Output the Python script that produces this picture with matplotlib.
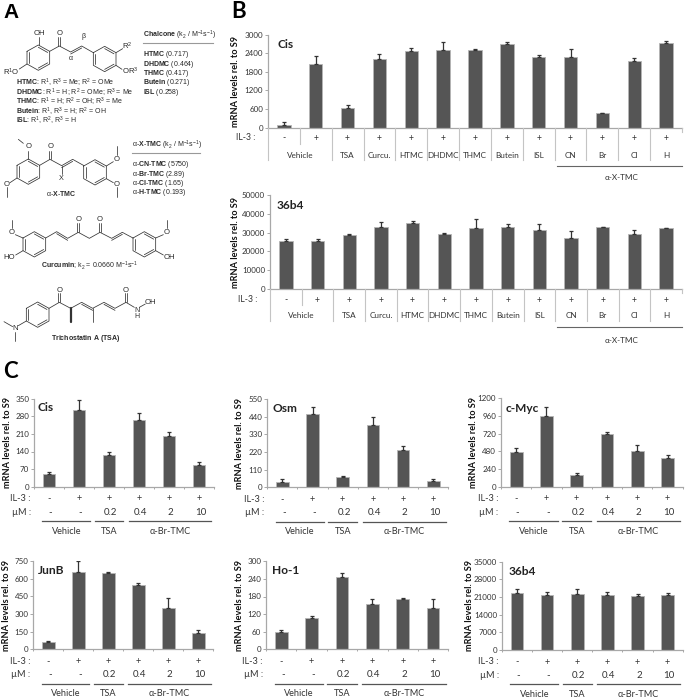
import matplotlib
matplotlib.use("Agg")
import matplotlib.pyplot as plt

plt.rcParams['font.family'] = ['Lato', 'Liberation Sans', 'DejaVu Sans']
plt.rcParams['mathtext.fontset'] = 'custom'
plt.rcParams['mathtext.rm'] = 'Liberation Sans'
plt.rcParams['mathtext.bf'] = 'Liberation Sans:bold'
plt.rcParams['mathtext.it'] = 'Liberation Sans:italic'
plt.rcParams['mathtext.default'] = 'rm'

W, H = 686, 700
BAR = '#555555'; EDGE = '#b5b5b5'; AX = '#a8a8a8'; TXT = '#333333'
CHEM = ['Liberation Sans', 'DejaVu Sans']

# ---------- data ----------
b_il3 = ['-', '+', '+', '+', '+', '+', '+', '+', '+', '+', '+', '+', '+']
b_names = ['TSA', 'Curcu.', 'HTMC', 'DHDMC', 'THMC', 'Butein', 'ISL', 'CN', 'Br', 'Cl', 'H']
b_cis = [100, 2050, 640, 2200, 2460, 2520, 2510, 2690, 2270, 2290, 470, 2160, 2740]
b_cis_err = [80, 270, 80, 190, 110, 240, 30, 60, 60, 240, 10, 100, 70]
b_36b4 = [25800, 25400, 28800, 33200, 35000, 29500, 32500, 32900, 31500, 27000, 33200, 29500, 32500]
b_36b4_err = [900, 1000, 300, 2500, 1500, 200, 4700, 1500, 3000, 4000, 0, 1800, 0]

c_il3 = ['-', '+', '+', '+', '+', '+']
c_um = ['-', '-', '0.2', '0.4', '2', '10']
c_cis = [52, 305, 125, 265, 200, 85]
c_cis_err = [8, 40, 14, 30, 18, 15]
c_osm = [35, 455, 62, 390, 232, 38]
c_osm_err = [15, 45, 10, 50, 25, 12]
c_myc = [470, 955, 160, 710, 490, 390]
c_myc_err = [60, 130, 20, 30, 70, 35]
c_junb = [65, 660, 645, 548, 352, 135]
c_junb_err = [3, 90, 10, 15, 80, 30]
c_ho1 = [60, 108, 246, 153, 171, 141]
c_ho1_err = [6, 6, 14, 18, 4, 30]
c_36b4 = [22500, 21700, 22200, 21700, 21300, 21800]
c_36b4_err = [1700, 1400, 2000, 1100, 800, 800]

fig = plt.figure(figsize=(W / 100, H / 100), dpi=100, facecolor='white')
ov = fig.add_axes([0, 0, 1, 1], zorder=5)
ov.set_xlim(0, W); ov.set_ylim(H, 0); ov.axis('off')


def panel(box, values, errs, ymax, step, title, title_xy, ylab_x):
    l, t, r, b = box
    ax = fig.add_axes([l / W, 1 - b / H, (r - l) / W, (b - t) / H])
    n = len(values)
    xs = [i + 0.5 for i in range(n)]
    ax.bar(xs, values, width=0.42, color=BAR, edgecolor=EDGE, linewidth=0.6, zorder=2)
    ax.errorbar(xs, values, yerr=[[0] * n, errs], fmt='none', ecolor='#333333',
                elinewidth=0.9, capsize=1.6, capthick=0.9, zorder=3)
    ax.set_xlim(0, n); ax.set_ylim(0, ymax)
    ax.set_yticks(list(range(0, ymax + 1, step)))
    ax.set_xticks(range(n + 1)); ax.set_xticklabels([])
    for s in ('top', 'right'):
        ax.spines[s].set_visible(False)
    for s in ('left', 'bottom'):
        ax.spines[s].set_color(AX); ax.spines[s].set_linewidth(0.9)
    ax.tick_params(axis='y', length=2, width=0.7, color=AX, labelsize=5.8,
                   labelcolor=TXT, pad=1.5)
    ax.tick_params(axis='x', length=1.6, width=0.7, color=AX)
    ov.text(title_xy[0], title_xy[1], title, fontsize=8.6, fontweight='bold', color='#222222',
            va='center', ha='left')
    ov.text(ylab_x, (t + b) / 2, 'mRNA levels rel. to S9', fontsize=6.6, rotation=90,
            va='center', ha='center', color='#111111', fontweight='bold')
    return ax


def bpanel_labels(box, rows):
    l, t, r, b = box
    cw = (r - l) / 13
    sep_end, first_end, y_il, y_name, y_line, y_grp = rows
    ov.text(l - 13, y_il, 'IL-3 :', fontsize=6.2, color=TXT, ha='right', va='center')
    for i, s in enumerate(b_il3):
        ov.text(l + (i + .5) * cw, y_il, s, fontsize=6.2, color=TXT, ha='center', va='center')
    for i in range(14):
        if i == 1:
            end = first_end
        elif i == 13:
            end = b + 4
        else:
            end = sep_end
        ov.plot([l + i * cw] * 2, [b, end], color='#c4c4c4', lw=0.8)
    ov.text(l + cw, y_name, 'Vehicle', fontsize=5.9, color=TXT, ha='center', va='center')
    for i, s in enumerate(b_names):
        ov.text(l + (i + 2.5) * cw, y_name, s, fontsize=5.9, color=TXT, ha='center', va='center')
    ov.plot([l + 9 * cw + 2, r], [y_line, y_line], color='#666666', lw=0.8)
    ov.text(622, y_grp, 'α-X-TMC', fontsize=5.9, color=TXT, ha='center', va='center')


def cpanel_labels(box):
    l, t, r, b = box
    cw = (r - l) / 6
    ov.text(l - 3, b + 12, 'IL-3 :', fontsize=6.6, color=TXT, ha='right', va='center')
    ov.text(l - 3, b + 25.5, 'µM :', fontsize=6.6, color=TXT, ha='right', va='center')
    for i in range(6):
        ov.text(l + (i + .5) * cw, b + 12, c_il3[i], fontsize=6.6, color=TXT, ha='center', va='center')
        ov.text(l + (i + .55) * cw, b + 25.5, c_um[i], fontsize=7, color=TXT, ha='center', va='center')
    for name, a, e in (('Vehicle', 0.28, 1.87), ('TSA', 2.02, 2.98), ('α-Br-TMC', 3.16, 5.91)):
        ov.plot([l + a * cw, l + e * cw], [b + 34.2, b + 34.2], color='#555555', lw=0.9)
        ov.text(l + (a + e) / 2 * cw, b + 44.5, name, fontsize=6.6, color=TXT, ha='center', va='center')


# ---------- panel B ----------
box = (268, 34.7, 682, 127.7)
panel(box, b_cis, b_cis_err, 3000, 600, 'Cis', (277, 45), 235)
bpanel_labels(box, (160.3, 144, 138, 155, 165.7, 178))
box = (270, 195.3, 682, 288.7)
panel(box, b_36b4, b_36b4_err, 50000, 10000, '36b4', (277, 205.7), 236)
bpanel_labels(box, (320.7, 305, 300, 316, 327, 340.7))

# ---------- panel C ----------
cfg = [
    ((34, 398.7, 214, 486.7), c_cis, c_cis_err, 350, 70, 'Cis', (38, 407.7), 7.7),
    ((267.3, 399, 448.3, 487.3), c_osm, c_osm_err, 550, 110, 'Osm', (272.7, 408.7), 239),
    ((501, 398.3, 682.7, 486.7), c_myc, c_myc_err, 1200, 240, 'c-Myc', (506, 408), 474),
    ((33.3, 561, 213.3, 649.3), c_junb, c_junb_err, 750, 150, 'JunB', (38, 570.7), 6.7),
    ((266, 561.3, 448.3, 649.3), c_ho1, c_ho1_err, 300, 60, 'Ho-1', (271.7, 571), 240),
    ((502, 561.7, 682.7, 650), c_36b4, c_36b4_err, 35000, 7000, '36b4', (508.7, 571.7), 470),
]
for c in cfg:
    panel(*c)
    cpanel_labels(c[0])

# ---------- panel letters ----------
ov.text(3, 12, 'A', fontsize=15, fontweight='bold', family=CHEM, color='black', ha='left', va='center')
ov.text(231, 12, 'B', fontsize=16, fontweight='bold', color='black', ha='left', va='center')
ov.text(3, 372, 'C', fontsize=16, fontweight='bold', color='black', ha='left', va='center')


# ---------- chemical drawings (coordinates given at 3x scale) ----------
def poly(pts, lw=0.55, closed=False):
    p = list(pts) + ([pts[0]] if closed else [])
    ov.plot([a / 3 for a, _ in p], [b / 3 for _, b in p], color='#333333', lw=lw, solid_capstyle='round')


def dbl(a, b, dx=0, dy=5):
    poly([(a[0] + dx, a[1] + dy), (b[0] + dx, b[1] + dy)])


def ring(cx, cy, rw=34, rh=38):
    v = [(cx - rw, cy - rh / 2), (cx, cy - rh), (cx + rw, cy - rh / 2),
         (cx + rw, cy + rh / 2), (cx, cy + rh), (cx - rw, cy + rh / 2)]
    poly(v, closed=True)
    for i, j in ((0, 5), (1, 2), (3, 4)):
        mx, my = cx, cy
        a = (v[i][0] * .82 + mx * .18, v[i][1] * .82 + my * .18)
        b = (v[j][0] * .82 + mx * .18, v[j][1] * .82 + my * .18)
        poly([a, b])


def chem(x, y, s, size=5.05, ha='center', **kw):
    ov.text(x / 3, y / 3, s, fontsize=size, ha=ha, va='center', family=CHEM, color='#2a2a2a', **kw)


# chalcone
ring(115, 173); ring(314, 177)
poly([(117, 135), (117, 112)]); poly([(81, 192), (58, 207)])
poly([(149, 154), (178, 138), (212, 156), (245, 138), (280, 158)])
dbl((212, 156), (245, 138), 0, 6)
poly([(175, 138), (175, 112)]); poly([(181, 138), (181, 112)])
poly([(348, 158), (368, 146)]); poly([(348, 196), (366, 208)])
chem(118, 100, 'OH', 5.6); chem(178, 100, 'O', 5.6); chem(249, 108, 'β', 5)
chem(212, 176, 'α', 5)
chem(33, 216, r'R$^1$O', 5.6); chem(381, 140, r'R$^2$', 5.6); chem(390, 215, r'OR$^3$', 5.6)
lines = [r'$\mathbf{HTMC}$: R$^1$, R$^3$ = Me; R$^2$ = OMe',
         r'$\mathbf{DHDMC}$: R$^1$ = H; R$^2$ = OMe; R$^3$ = Me',
         r'$\mathbf{THMC}$: R$^1$ = H; R$^2$ = OH; R$^3$ = Me',
         r'$\mathbf{Butein}$: R$^1$, R$^3$ = H; R$^2$ = OH',
         r'$\mathbf{ISL}$: R$^1$, R$^2$, R$^3$ = H']
for yy, s in zip((248, 278, 307, 335, 364), lines):
    chem(48, yy, s, ha='left')
chem(430, 107, r'$\mathbf{Chalcone}$ (k$_2$ / M$^{-1}$s$^{-1}$)', ha='left')
ov.plot([143, 213], [43.3, 43.3], color='#999999', lw=0.8)
rows = [r'$\mathbf{HTMC}$ (0.717)', r'$\mathbf{DHDMC}$ (0.464)', r'$\mathbf{THMC}$ (0.417)',
        r'$\mathbf{Butein}$ (0.271)', r'$\mathbf{ISL}$ (0.258)']
for yy, s in zip((165, 193, 221, 249, 278), rows):
    chem(430, yy, s, ha='left')

# alpha-X-TMC
ring(85, 515); ring(285, 517)
poly([(85, 477), (85, 452)]); poly([(70, 430), (55, 418)])
poly([(119, 496), (150, 478), (185, 497), (218, 478), (252, 497)])
dbl((185, 497), (218, 478), 0, 6)
poly([(147, 478), (147, 452)]); poly([(153, 478), (153, 452)])
poly([(185, 497), (185, 522)])
poly([(51, 534), (30, 548)]); poly([(20, 562), (20, 590)])
poly([(319, 498), (340, 485)]); poly([(350, 465), (350, 438)])
poly([(319, 536), (340, 548)]); poly([(350, 562), (350, 590)])
chem(85, 440, 'O', 5.6); chem(152, 440, 'O', 5.6); chem(185, 534, 'X', 5.2)
chem(20, 552, 'O', 5.6); chem(350, 478, 'O', 5.6); chem(350, 552, 'O', 5.6)
chem(183, 582, r'α-$\mathbf{X}$-$\mathbf{TMC}$')
chem(397, 437, r'α-$\mathbf{X}$-$\mathbf{TMC}$ (k$_2$ / M$^{-1}$s$^{-1}$)', ha='left')
ov.plot([132, 200], [153.3, 153.3], color='#999999', lw=0.8)
rows = [r'α-$\mathbf{CN}$-$\mathbf{TMC}$ (5750)', r'α-$\mathbf{Br}$-$\mathbf{TMC}$ (2.89)',
        r'α-$\mathbf{Cl}$-$\mathbf{TMC}$ (1.65)', r'α-$\mathbf{H}$-$\mathbf{TMC}$ (0.193)']
for yy, s in zip((495, 523, 550, 579), rows):
    chem(397, yy, s, ha='left')

# curcumin (y offset 510)
oy = 510
ring(103, 223 + oy); ring(433, 223 + oy)
poly([(137, 204 + oy), (170, 185 + oy), (203, 205 + oy), (235, 187 + oy), (268, 205 + oy),
      (300, 187 + oy), (335, 205 + oy), (367, 187 + oy), (399, 204 + oy)])
dbl((170, 185 + oy), (203, 205 + oy), 0, 6); dbl((335, 205 + oy), (367, 187 + oy), 0, 6)
for xx in (232, 238, 297, 303):
    poly([(xx, 187 + oy), (xx, 158 + oy)])
poly([(69, 204 + oy), (46, 194 + oy)]); poly([(35, 175 + oy), (35, 150 + oy)])
poly([(467, 204 + oy), (490, 194 + oy)]); poly([(500, 175 + oy), (500, 150 + oy)])
poly([(69, 242 + oy), (47, 255 + oy)]); poly([(467, 242 + oy), (490, 255 + oy)])
chem(235, 148 + oy, 'O', 5.6); chem(300, 148 + oy, 'O', 5.6)
chem(35, 187 + oy, 'O', 5.6); chem(500, 187 + oy, 'O', 5.6)
chem(28, 262 + oy, 'HO', 5.6); chem(508, 262 + oy, 'OH', 5.6)
chem(270, 288 + oy, r'$\mathbf{Curcumin}$; k$_2$ = 0.0660 M$^{-1}$s$^{-1}$')

# trichostatin A
ring(113, 434 + oy)
poly([(147, 415 + oy), (178, 397 + oy), (212, 415 + oy), (245, 397 + oy), (278, 415 + oy),
      (312, 397 + oy), (345, 415 + oy), (378, 397 + oy), (403, 412 + oy)])
dbl((245, 397 + oy), (278, 415 + oy), 0, 6); dbl((312, 397 + oy), (345, 415 + oy), 0, 6)
for xx in (175, 181, 375, 381):
    poly([(xx, 397 + oy), (xx, 370 + oy)])
poly([(212, 415 + oy), (212, 455 + oy)], lw=1.6); poly([(278, 415 + oy), (278, 455 + oy)])
poly([(79, 453 + oy), (55, 467 + oy)]); poly([(38, 470 + oy), (12, 455 + oy)])
poly([(45, 485 + oy), (45, 512 + oy)]); poly([(418, 412 + oy), (436, 402 + oy)])
chem(178, 360 + oy, 'O', 5.6); chem(378, 360 + oy, 'O', 5.6)
chem(45, 475 + oy, 'N', 5.6); chem(410, 420 + oy, 'N', 5); chem(410, 440 + oy, 'H', 5)
chem(452, 398 + oy, 'OH', 5.6)
chem(258, 505 + oy, r'$\mathbf{Trichostatin\ A\ (TSA)}$')

fig.savefig('out.png', dpi=100, facecolor='white')
